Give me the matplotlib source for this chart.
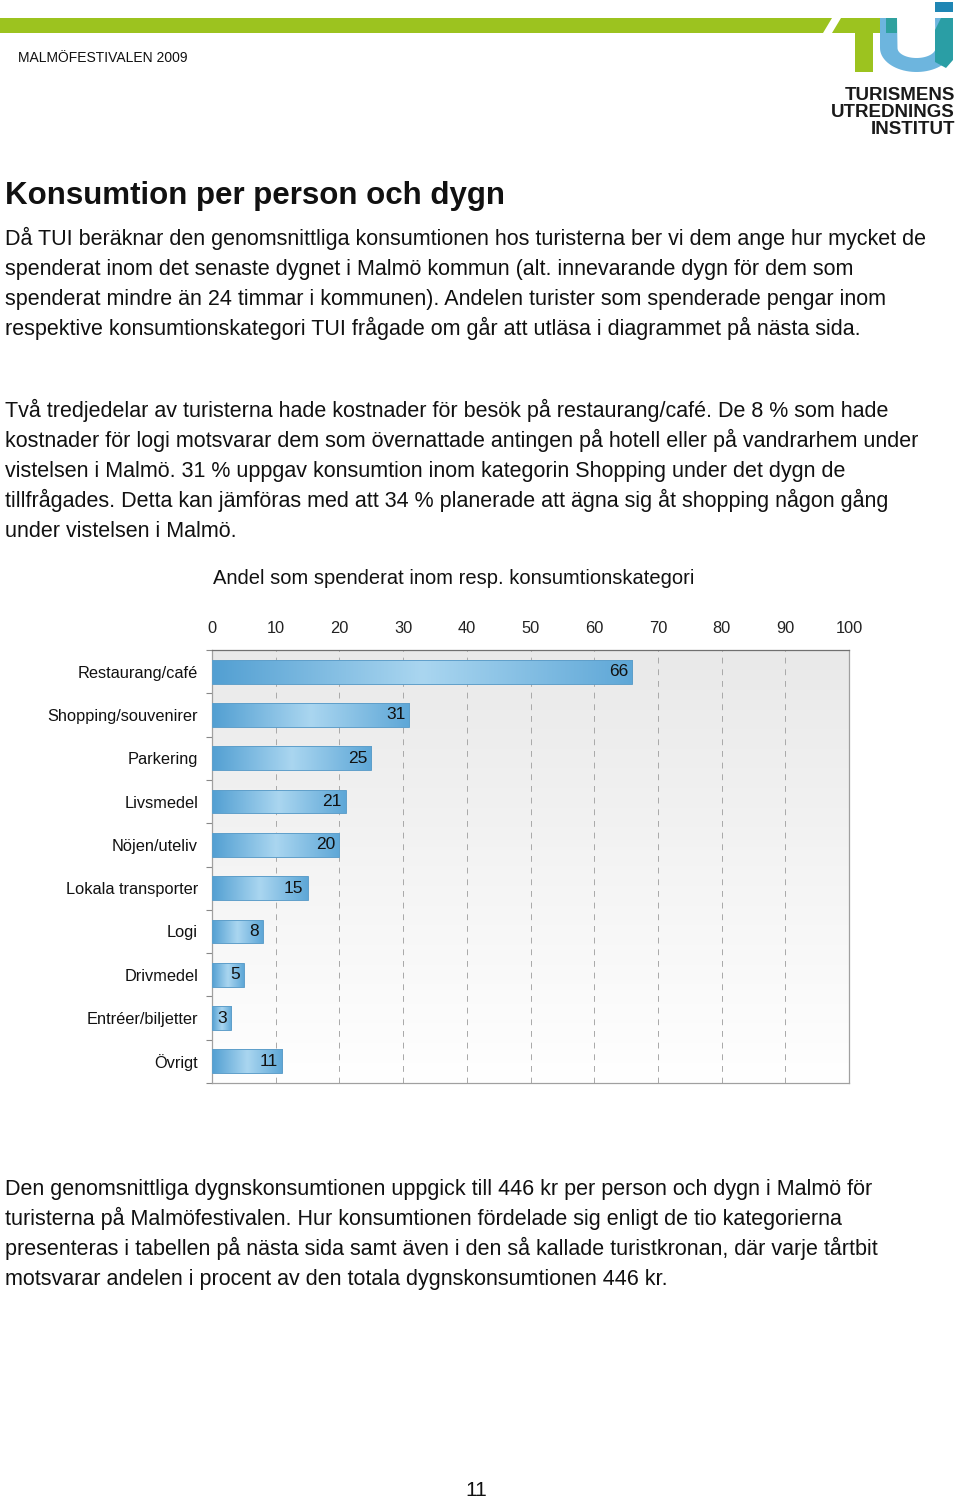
import numpy as np
import matplotlib.pyplot as plt
from matplotlib.colors import LinearSegmentedColormap
from matplotlib.patches import Polygon, Rectangle

plt.rcParams['font.family'] = ['Liberation Sans', 'DejaVu Sans']

# chart data
categories = ["Restaurang/café", "Shopping/souvenirer", "Parkering", "Livsmedel",
              "Nöjen/uteliv", "Lokala transporter", "Logi", "Drivmedel",
              "Entréer/biljetter", "Övrigt"]
values = [66, 31, 25, 21, 20, 15, 8, 5, 3, 11]
x_ticks = [0, 10, 20, 30, 40, 50, 60, 70, 80, 90, 100]

header = "MALMÖFESTIVALEN 2009"
title = "Konsumtion per person och dygn"
para1 = ["Då TUI beräknar den genomsnittliga konsumtionen hos turisterna ber vi dem ange hur mycket de",
         "spenderat inom det senaste dygnet i Malmö kommun (alt. innevarande dygn för dem som",
         "spenderat mindre än 24 timmar i kommunen). Andelen turister som spenderade pengar inom",
         "respektive konsumtionskategori TUI frågade om går att utläsa i diagrammet på nästa sida."]
para2 = ["Två tredjedelar av turisterna hade kostnader för besök på restaurang/café. De 8 % som hade",
         "kostnader för logi motsvarar dem som övernattade antingen på hotell eller på vandrarhem under",
         "vistelsen i Malmö. 31 % uppgav konsumtion inom kategorin Shopping under det dygn de",
         "tillfrågades. Detta kan jämföras med att 34 % planerade att ägna sig åt shopping någon gång",
         "under vistelsen i Malmö."]
para3 = ["Den genomsnittliga dygnskonsumtionen uppgick till 446 kr per person och dygn i Malmö för",
         "turisterna på Malmöfestivalen. Hur konsumtionen fördelade sig enligt de tio kategorierna",
         "presenteras i tabellen på nästa sida samt även i den så kallade turistkronan, där varje tårtbit",
         "motsvarar andelen i procent av den totala dygnskonsumtionen 446 kr."]
chart_title = "Andel som spenderat inom resp. konsumtionskategori"
logo_lines = ["TURISMENS", "UTREDNINGS", "INSTITUT"]
page_no = "11"

W, H = 960, 1502
fig = plt.figure(figsize=(W / 100, H / 100), dpi=100)
fig.patch.set_facecolor('white')

def fy(y):
    return 1 - y / H

# page decoration in pixel coordinates
deco = fig.add_axes([0, 0, 1, 1])
deco.set_xlim(0, W)
deco.set_ylim(H, 0)
deco.axis('off')

green = '#9cc31f'
deco.add_patch(Polygon([(0, 18), (832, 18), (823, 33), (0, 33)], color=green, lw=0))
deco.add_patch(Polygon([(841, 18), (886, 18), (886, 33), (832, 33)], color=green, lw=0))
deco.add_patch(Rectangle((855, 33), 18, 39, color=green, lw=0))
# U
t = np.linspace(np.pi, 2 * np.pi, 40)
outer = np.column_stack([916.5 + 36.5 * np.cos(t), 48 - 24 * np.sin(t)])
inner = np.column_stack([916.5 + 19 * np.cos(t[::-1]), 48 - 10 * np.sin(t[::-1])])
u_pts = np.vstack([[(880, 18)], outer, [(953, 18), (935, 18)], inner, [(897, 18)]])
deco.add_patch(Polygon(u_pts, color='#6db5de', lw=0))
deco.add_patch(Rectangle((886, 18), 11, 15, color='#2fa19e', lw=0))
deco.add_patch(Polygon([(941, 18), (953, 18), (953, 60), (946, 68), (935, 62), (935, 30)],
                       color='#2a9ea5', lw=0))
deco.add_patch(Rectangle((935, 2), 18, 10, color='#1f86b4', lw=0))

fig.text(18 / W, fy(58), header, fontsize=10, va='center', ha='left', color='#111')
for i, s in enumerate(logo_lines):
    fig.text(955 / W, fy(96 + 16.5 * i), s, fontsize=13.5, fontweight='bold',
             ha='right', va='center', color='#1a1a1a')

fig.text(5 / W, fy(204), title, fontsize=22.5, fontweight='bold', va='baseline', color='#111')
for i, s in enumerate(para1):
    fig.text(5 / W, fy(244.5 + 30 * i), s, fontsize=15.5, va='baseline', color='#111')
for i, s in enumerate(para2):
    fig.text(5 / W, fy(417.5 + 30 * i), s, fontsize=15.5, va='baseline', color='#111')
for i, s in enumerate(para3):
    fig.text(5 / W, fy(1195.5 + 30 * i), s, fontsize=15.5, va='baseline', color='#111')
fig.text(213 / W, fy(578), chart_title, fontsize=14.5, va='center', color='#111')
fig.text(476 / W, fy(1490), page_no, fontsize=15, ha='center', va='center', color='#111')

# bar chart
ax = fig.add_axes([212 / W, fy(1083), (849 - 212) / W, (1083 - 650) / H])
n = len(categories)
ypos = np.arange(n)

bg = np.linspace(0, 1, 256).reshape(-1, 1)
bg_cmap = LinearSegmentedColormap.from_list('bg', ['#e9e9e9', '#ffffff'])
ax.imshow(bg, cmap=bg_cmap, extent=(0, 100, n - 0.5, -0.5), aspect='auto', zorder=0)

bar_cmap = LinearSegmentedColormap.from_list(
    'bar', [(0, '#529fd2'), (0.5, '#aad6f0'), (1, '#5ea7d7')])
grad = np.linspace(0, 1, 256).reshape(1, -1)
bars = ax.barh(ypos, values, height=0.55, color='none', edgecolor='#5f9fca', lw=0.7, zorder=4)
for b, v in zip(bars, values):
    x0, y0 = b.get_xy()
    im = ax.imshow(grad, cmap=bar_cmap, extent=(x0, x0 + b.get_width(), y0, y0 + b.get_height()),
                   aspect='auto', zorder=3, interpolation='bicubic')
    im.set_clip_path(b)
    ax.annotate(str(v), (v, b.get_y() + b.get_height() / 2), xytext=(-3, 0),
                textcoords='offset points', ha='right', va='center', fontsize=12.5,
                color='#111', zorder=5)

ax.set_xlim(0, 100)
ax.set_ylim(n - 0.5, -0.5)
ax.xaxis.tick_top()
ax.set_xticks(x_ticks)
ax.set_xticklabels([str(x) for x in x_ticks])
ax.tick_params(axis='x', length=0, pad=10, labelsize=11.8, labelcolor='#222')
ax.set_yticks(ypos)
ax.set_yticklabels(categories)
ax.tick_params(axis='y', which='major', length=0, pad=10, labelsize=11.8, labelcolor='#111')
ax.set_yticks(np.arange(n + 1) - 0.5, minor=True)
ax.tick_params(axis='y', which='minor', length=4, color='#888', width=0.8)

ax.set_axisbelow(True)
ax.grid(axis='x', linestyle=(0, (6, 6)), color='#a8a8a8', lw=0.7)
for side, c in [('top', '#707070'), ('right', '#a0a0a0'), ('bottom', '#a0a0a0'), ('left', '#a0a0a0')]:
    ax.spines[side].set_color(c)
    ax.spines[side].set_linewidth(0.9)

fig.savefig('out.png', dpi=100)
